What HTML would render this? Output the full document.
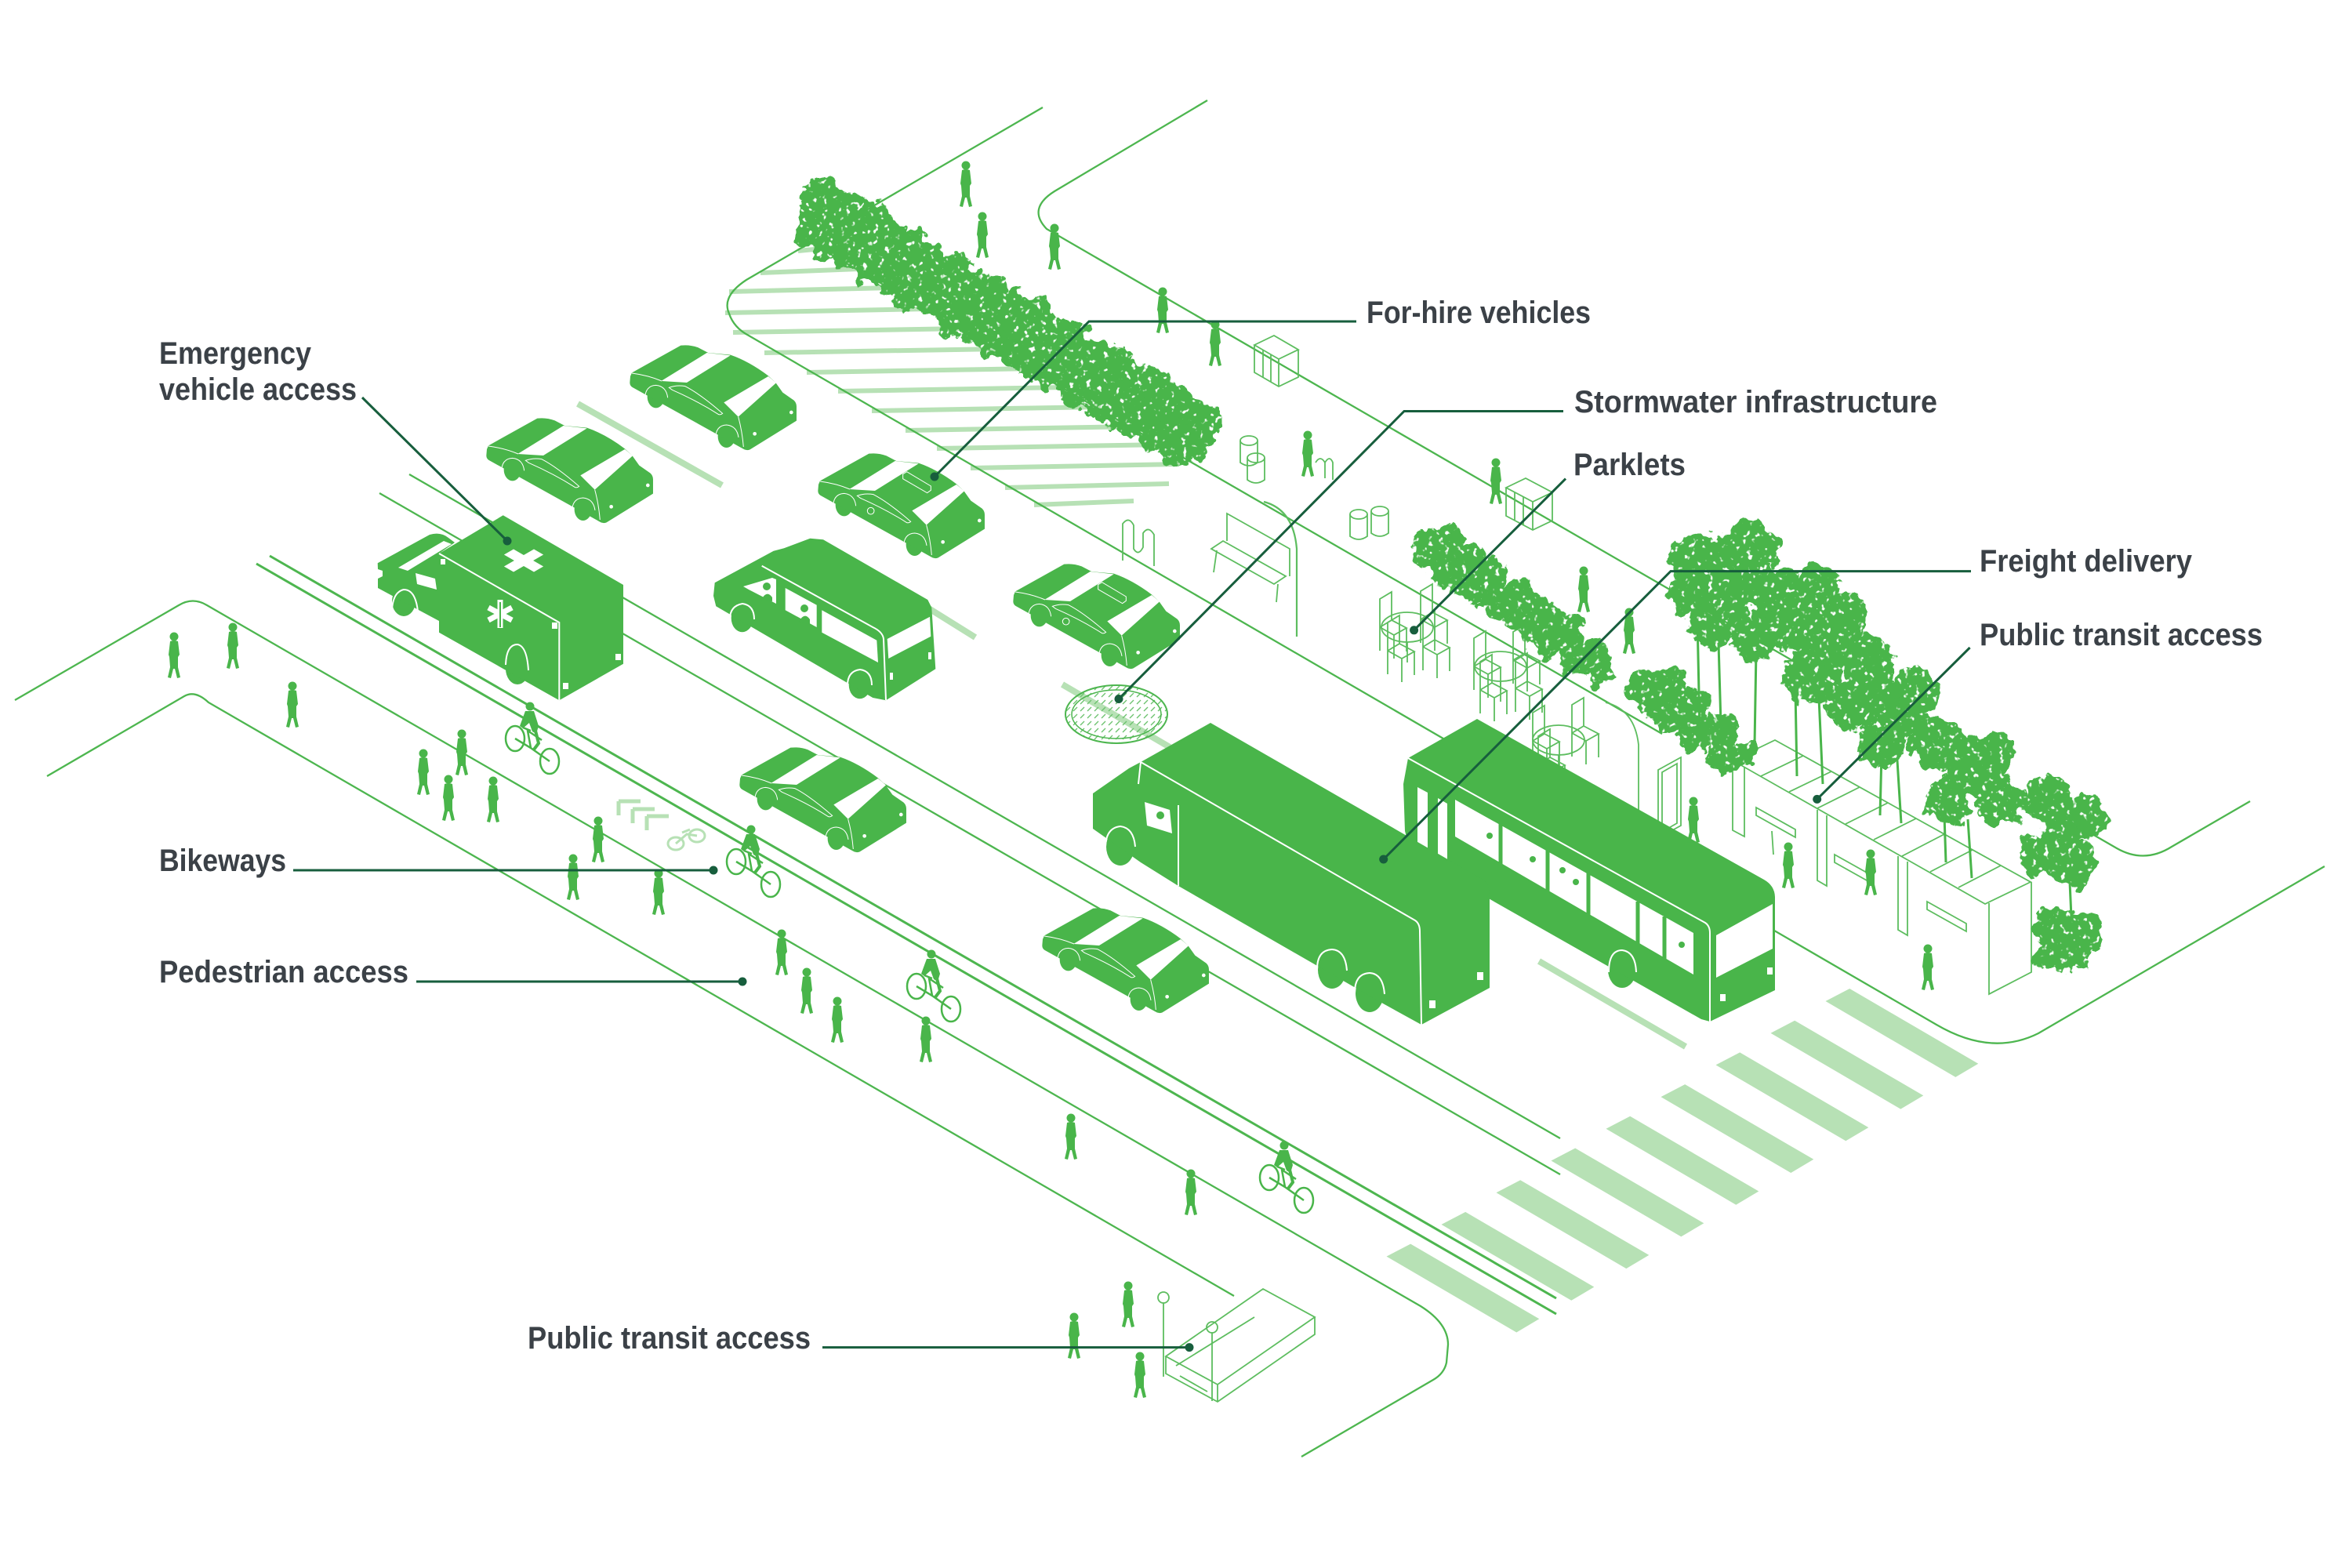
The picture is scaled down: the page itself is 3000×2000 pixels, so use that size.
<!DOCTYPE html>
<html><head><meta charset="utf-8">
<style>
html,body{margin:0;padding:0;background:#fff;overflow:hidden;}
svg{display:block;}
text{font-family:"Liberation Sans",Arial,sans-serif;font-weight:700;fill:#3b4147;font-size:40px;}
</style></head><body>
<svg xmlns="http://www.w3.org/2000/svg" xmlns:xlink="http://www.w3.org/1999/xlink" width="3000" height="2000" viewBox="0 0 3000 2000">
<defs>
<pattern id="mh" width="9" height="9" patternUnits="userSpaceOnUse"><path d="M1,7 L6,2" stroke="#6cc26e" stroke-width="1.3"/></pattern>
<filter id="leafy" x="-15%" y="-15%" width="130%" height="130%" color-interpolation-filters="sRGB">
 <feTurbulence type="fractalNoise" baseFrequency="0.05" numOctaves="3" seed="4" result="n"/>
 <feDisplacementMap in="SourceGraphic" in2="n" scale="30" xChannelSelector="R" yChannelSelector="G" result="d"/>
 <feTurbulence type="fractalNoise" baseFrequency="0.14" numOctaves="2" seed="9" result="n2"/>
 <feColorMatrix in="n2" type="matrix" values="0 0 0 0 0  0 0 0 0 0  0 0 0 0 0  10 0 0 0 -6.4" result="holes"/>
 <feComposite in="d" in2="holes" operator="out"/>
</filter>
<g id="car"><g transform="translate(-75,-178)">
 <ellipse cx="170" cy="268" rx="33" ry="43" fill="#49b54a"/>
 <ellipse cx="440" cy="420" rx="33" ry="43" fill="#49b54a"/>
 <path d="M72,190 L78,176 L265,72 Q300,68 332,80 L370,100 L455,108 Q525,132 600,188 L628,214 L655,252 L698,282 Q708,292 708,305 L708,360 L530,470 Q516,476 503,467 L80,232 Q70,226 70,214 Z" fill="#49b54a"/>
 <path d="M190,208 L365,100 L455,110 L288,214 Z" fill="#fff"/>
 <path d="M430,290 L600,190 L630,215 L485,345 Z" fill="#fff"/>
 <path d="M78,178 Q140,186 192,208 M485,345 Q500,400 505,460" stroke="#fff" stroke-width="3" fill="none"/>
 <path d="M220,233 Q250,222 282,228 Q340,258 425,332 Q418,338 410,336 Q330,285 232,242 Z" stroke="#fff" stroke-width="3" fill="none"/>
 <path d="M128,282 Q126,226 170,224 Q210,228 215,272 M398,434 Q396,378 440,376 Q480,380 486,424" stroke="#fff" stroke-width="3" fill="none"/>
 <circle cx="548" cy="410" r="7" fill="#fff"/><circle cx="688" cy="328" r="7" fill="#fff"/>
</g></g>
<g id="taxi"><use href="#car"/><g transform="translate(-75,-178)">
 <path d="M395,150 L410,141 L502,196 L502,212 L488,222 L395,168 Z" fill="#49b54a" stroke="#fff" stroke-width="3"/>
 <circle cx="272" cy="291" r="13" fill="none" stroke="#fff" stroke-width="3"/>
</g></g>
<g id="p">
 <circle cx="0" cy="-53" r="5.5" fill="#49b54a"/>
 <path d="M-5,-47 Q0,-49 5,-47 L7,-30 L5,-27 L5,-14 L8,-1 L4,0 L1,-12 L-1,-12 L-4,0 L-8,-1 L-5,-14 L-6,-27 L-7,-30 Z" fill="#49b54a"/>
</g>
<g id="cy">
 <ellipse cx="0" cy="0" rx="12" ry="16" fill="none" stroke="#49b54a" stroke-width="2.5"/>
 <ellipse cx="44" cy="29" rx="12" ry="16" fill="none" stroke="#49b54a" stroke-width="2.5"/>
 <path d="M0,0 L20,12 L44,29 M20,12 L16,-10 L34,2 M10,-14 L20,-10" stroke="#49b54a" stroke-width="2.5" fill="none"/>
 <circle cx="19" cy="-41" r="5.5" fill="#49b54a"/>
 <path d="M13,-35 L24,-35 L30,-16 L27,-6 L22,-9 L18,-20 L10,-13 L6,-16 Z" fill="#49b54a"/>
 <path d="M26,-10 L30,6 L24,14" stroke="#49b54a" stroke-width="4" fill="none"/>
</g>
<g id="chair" fill="none" stroke="#5dbd5f" stroke-width="1.8">
 <path d="M0,0 L0,-36 L15,-45 L15,-9 Z M0,0 L18,10 L34,1 L15,-9 M0,0 L0,30 M18,10 L18,40 M34,1 L34,31"/>
</g>
</defs>

<!-- light green markings -->
<g stroke="#b7e1b5" stroke-width="6" fill="none">
 <path d="M1018,320 L1060,316 M970,348 L1096,343 M930,372 L1138,367 M925,399 L1185,394 M935,424 L1229,419 M975,450 L1275,445 M1029,475 L1319,470 M1069,499 L1360,494 M1112,524 L1404,519 M1155,549 L1447,544 M1195,572 L1488,567 M1238,597 L1504,592 M1282,622 L1491,617 M1319,644 L1446,639"/>
</g>
<g stroke="#b7e1b5" stroke-width="8" fill="none" stroke-linecap="butt">
 <path d="M737,515 L921,619 M1167,765 L1244,813 M1355,873 L1492,953 M1963,1226 L2150,1335"/>
 <path d="M789,1022 L817,1022 M789,1022 L789,1040 M807,1032 L835,1032 M807,1032 L807,1050 M825,1041 L853,1041 M825,1041 L825,1059" stroke-width="5"/>
</g>
<g fill="none" stroke="#b7e1b5" stroke-width="3">
 <ellipse cx="862" cy="1076" rx="10" ry="8"/><ellipse cx="889" cy="1066" rx="10" ry="8"/>
 <path d="M862,1076 L876,1064 L889,1066 M870,1062 L880,1058"/>
</g>
<g fill="#b7e1b5">
 <polygon points="1768.5,1602.6 1799.2,1586.6 1963.3,1682.3 1934.3,1699.5"/>
 <polygon points="1838.5,1561.9 1869.2,1545.9 2033.3,1641.6 2004.3,1658.8"/>
 <polygon points="1908.5,1521.2 1939.2,1505.2 2103.3,1600.9 2074.3,1618.1"/>
 <polygon points="1978.5,1480.5 2009.2,1464.5 2173.3,1560.2 2144.3,1577.4"/>
 <polygon points="2048.5,1439.8 2079.2,1423.8 2243.3,1519.5 2214.3,1536.7"/>
 <polygon points="2118.5,1399.1 2149.2,1383.1 2313.3,1478.8 2284.3,1496"/>
 <polygon points="2188.5,1358.4 2219.2,1342.4 2383.3,1438.1 2354.3,1455.3"/>
 <polygon points="2258.5,1317.7 2289.2,1301.7 2453.3,1397.4 2424.3,1414.6"/>
 <polygon points="2328.5,1277 2359.2,1261 2523.3,1356.7 2494.3,1373.9"/>
</g>

<!-- road lines -->
<g fill="none" stroke="#4db64f" stroke-width="2.3">
 <path d="M1330,137 L952,357 Q920,378 930,400 Q936,418 955,428 L2470,1307 Q2540,1348 2600,1318 L2965,1105"/>
 <path d="M1540,128 L1345,244 Q1310,266 1335,292 L2700,1082 Q2735,1102 2770,1080 L2870,1022"/>
 <path d="M1033,309 L2120,936"/>
 <path d="M522,605 L1990,1452"/>
 <path d="M484,629 L1990,1498"/>
 <path d="M344,709 L1985,1656" stroke-width="3"/>
 <path d="M327,719 L1985,1676" stroke-width="3"/>
 <path d="M19,893 L228,772 Q246,761 264,772 L1812,1666 Q1847,1688 1847,1715 L1845,1738 Q1842,1752 1828,1760 L1660,1858"/>
 <path d="M60,990 L235,888 Q249,880 266,896 L1574,1653"/>
</g>

<!-- manhole -->
<ellipse cx="1424" cy="911" rx="65" ry="37" fill="url(#mh)" stroke="#4db64f" stroke-width="2"/>
<ellipse cx="1424" cy="911" rx="57" ry="31" fill="none" stroke="#4db64f" stroke-width="1.5"/>

<!-- street furniture -->
<g fill="none" stroke="#5dbd5f" stroke-width="1.8">
 <path d="M1600,440 L1625,428 L1656,446 L1631,458 Z M1600,440 L1600,475 L1631,493 L1656,481 L1656,446 M1631,458 L1631,493 M1611,446 L1611,481 M1621,452 L1621,487"/>
 <path d="M1921,622 L1946,610 L1980,628 L1955,640 Z M1921,622 L1921,658 L1955,676 L1980,664 L1980,628 M1955,640 L1955,676 M1932,628 L1932,664 M1943,634 L1943,670"/>
 <ellipse cx="1593" cy="562" rx="11" ry="6"/><path d="M1582,562 L1582,590 Q1593,598 1604,590 L1604,562"/>
 <ellipse cx="1602" cy="584" rx="11" ry="6"/><path d="M1591,584 L1591,612 Q1602,620 1613,612 L1613,584"/>
 <ellipse cx="1733" cy="656" rx="11" ry="6"/><path d="M1722,656 L1722,684 Q1733,692 1744,684 L1744,656"/>
 <ellipse cx="1760" cy="652" rx="11" ry="6"/><path d="M1749,652 L1749,680 Q1760,688 1771,680 L1771,652"/>
 <path d="M1678,590 Q1684,580 1690,590 L1690,610 M1690,590 Q1696,580 1700,590 L1700,612"/>
 <path d="M1432,715 L1432,668 Q1440,658 1446,670 L1446,700 Q1452,710 1458,698 L1458,680 Q1465,670 1472,682 L1472,722"/>
 <path d="M1545,700 L1560,690 L1640,735 L1625,745 Z M1565,690 L1565,655 L1645,700 L1645,735 M1552,702 L1548,730 M1630,745 L1628,768"/>
 <path d="M1654,812 L1654,700 Q1650,650 1612,640" stroke-width="2.2"/>
 <ellipse cx="1795" cy="800" rx="33" ry="19"/><path d="M1795,819 L1795,845"/>
 <ellipse cx="1914" cy="850" rx="33" ry="19"/><path d="M1914,869 L1914,895"/>
 <ellipse cx="1988" cy="944" rx="33" ry="19"/><path d="M1988,963 L1988,989"/>
 <path d="M2090,1033 L2090,950 Q2085,905 2048,896"/>
 <path d="M2115,982 L2144,966 L2144,1053 L2115,1069 Z M2120,985 L2139,974 L2139,1050 L2120,1061 Z"/>
 <path d="M2210,970 L2264,944 L2590,1125 L2532,1153 Z"/>
 <path d="M2246,990 L2300,964 M2282,1010 L2336,984 M2318,1031 L2372,1004 M2354,1051 L2408,1024 M2390,1071 L2444,1044 M2426,1092 L2480,1064 M2462,1112 L2516,1084 M2498,1132 L2552,1104"/>
 <path d="M2210,970 L2210,1059 L2225,1067 L2225,978 M2318,1033 L2318,1123 L2330,1130 L2330,1040 M2421,1092 L2421,1186 L2433,1193 L2433,1099 M2537,1152 L2537,1268 L2591,1240 L2591,1125"/>
 <path d="M2240,1030 L2290,1058 L2290,1068 L2240,1040 Z M2260,1060 L2262,1090 M2340,1090 L2390,1118 L2390,1128 L2340,1100 Z M2458,1150 L2508,1178 L2508,1188 L2458,1160 Z"/>
 <path d="M1487,1730 L1611,1644 L1677,1680 L1553,1766 Z M1487,1730 L1487,1752 L1553,1788 L1677,1702 L1677,1680 M1553,1766 L1553,1788 M1500,1742 L1600,1680 M1505,1755 L1540,1775"/>
 <path d="M1484,1756 L1484,1662 M1546,1787 L1546,1700"/>
 <circle cx="1484" cy="1655" r="7"/><circle cx="1546" cy="1693" r="7"/>
</g>
<use href="#chair" transform="translate(1760,800)"/>
<use href="#chair" transform="translate(1812,790)"/>
<use href="#chair" transform="translate(1770,830)"/>
<use href="#chair" transform="translate(1815,825)"/>
<use href="#chair" transform="translate(1880,850)"/>
<use href="#chair" transform="translate(1930,842)"/>
<use href="#chair" transform="translate(1888,880)"/>
<use href="#chair" transform="translate(1933,878)"/>
<use href="#chair" transform="translate(1955,945)"/>
<use href="#chair" transform="translate(2005,935)"/>
<use href="#chair" transform="translate(1962,975)"/>

<!-- hedge -->
<g fill="#49b54a" filter="url(#leafy)">
 <path d="M1045,275 L1525,555" stroke="#49b54a" stroke-width="54" stroke-linecap="round" fill="none"/>
 <circle cx="1040" cy="248" r="18"/><circle cx="1052" cy="268" r="22"/>
 <circle cx="1059" cy="251" r="20"/><circle cx="1085" cy="266" r="17"/><circle cx="1111" cy="281" r="22"/><circle cx="1137" cy="296" r="16"/><circle cx="1163" cy="311" r="21"/><circle cx="1189" cy="327" r="18"/><circle cx="1215" cy="342" r="22"/><circle cx="1240" cy="357" r="16"/><circle cx="1266" cy="372" r="21"/><circle cx="1292" cy="387" r="18"/><circle cx="1318" cy="402" r="22"/><circle cx="1344" cy="417" r="17"/><circle cx="1370" cy="432" r="21"/><circle cx="1396" cy="447" r="18"/><circle cx="1422" cy="463" r="22"/><circle cx="1448" cy="478" r="17"/><circle cx="1474" cy="493" r="21"/><circle cx="1500" cy="508" r="18"/><circle cx="1526" cy="523" r="20"/>
 <circle cx="1031" cy="299" r="17"/><circle cx="1057" cy="314" r="20"/><circle cx="1083" cy="329" r="16"/><circle cx="1109" cy="344" r="20"/><circle cx="1135" cy="360" r="17"/><circle cx="1161" cy="375" r="21"/><circle cx="1187" cy="390" r="16"/><circle cx="1212" cy="405" r="20"/><circle cx="1238" cy="420" r="17"/><circle cx="1264" cy="435" r="21"/><circle cx="1290" cy="450" r="16"/><circle cx="1316" cy="465" r="20"/><circle cx="1342" cy="480" r="17"/><circle cx="1368" cy="496" r="21"/><circle cx="1394" cy="511" r="16"/><circle cx="1420" cy="526" r="20"/><circle cx="1446" cy="541" r="17"/><circle cx="1472" cy="556" r="20"/><circle cx="1498" cy="571" r="18"/>
 <circle cx="1530" cy="555" r="22"/><circle cx="1540" cy="538" r="18"/>
</g>

<!-- right-side trees -->
<g fill="#49b54a" filter="url(#leafy)">
 <circle cx="1825" cy="700" r="24"/><circle cx="1850" cy="690" r="20"/><circle cx="1845" cy="725" r="26"/><circle cx="1875" cy="715" r="22"/><circle cx="1880" cy="745" r="24"/><circle cx="1905" cy="735" r="20"/><circle cx="1910" cy="768" r="25"/><circle cx="1940" cy="760" r="22"/><circle cx="1945" cy="790" r="24"/><circle cx="1970" cy="785" r="20"/><circle cx="1975" cy="815" r="24"/><circle cx="2000" cy="810" r="22"/><circle cx="2010" cy="840" r="22"/><circle cx="2035" cy="835" r="20"/><circle cx="2040" cy="860" r="18"/>
 <circle cx="2100" cy="880" r="25"/><circle cx="2130" cy="870" r="22"/><circle cx="2125" cy="905" r="26"/><circle cx="2160" cy="900" r="24"/><circle cx="2165" cy="935" r="25"/><circle cx="2195" cy="930" r="22"/><circle cx="2200" cy="965" r="22"/><circle cx="2225" cy="960" r="18"/>
 <circle cx="2170" cy="720" r="40"/><circle cx="2230" cy="700" r="36"/><circle cx="2262" cy="760" r="38"/><circle cx="2190" cy="790" r="36"/><circle cx="2240" cy="815" r="28"/><circle cx="2150" cy="760" r="24"/><circle cx="2215" cy="745" r="30"/>
 <circle cx="2292" cy="795" r="36"/><circle cx="2350" cy="785" r="32"/><circle cx="2382" cy="842" r="36"/><circle cx="2312" cy="862" r="36"/><circle cx="2362" cy="902" r="30"/><circle cx="2320" cy="745" r="26"/><circle cx="2335" cy="830" r="28"/>
 <circle cx="2385" cy="885" r="32"/><circle cx="2442" cy="885" r="32"/><circle cx="2462" cy="942" r="30"/><circle cx="2400" cy="948" r="30"/><circle cx="2420" cy="915" r="26"/>
 <circle cx="2482" cy="955" r="34"/><circle cx="2540" cy="962" r="32"/><circle cx="2552" cy="1022" r="30"/><circle cx="2485" cy="1022" r="30"/><circle cx="2515" cy="990" r="26"/>
 <circle cx="2612" cy="1022" r="32"/><circle cx="2660" cy="1042" r="28"/><circle cx="2642" cy="1100" r="32"/><circle cx="2602" cy="1090" r="26"/><circle cx="2630" cy="1060" r="24"/>
 <circle cx="2620" cy="1182" r="26"/><circle cx="2660" cy="1192" r="24"/><circle cx="2642" cy="1215" r="24"/><circle cx="2610" cy="1215" r="18"/>
</g>
<g stroke="#49b54a" stroke-width="3" fill="none">
 <path d="M2192,820 L2196,960 M2240,830 L2238,950 M2165,790 L2168,930 M2320,890 L2325,1000 M2290,880 L2292,990 M2420,970 L2425,1050 M2400,960 L2398,1040 M2510,1045 L2515,1120 M2480,1040 L2482,1100 M2640,1125 L2642,1170"/>
</g>

<!-- vehicles -->
<use href="#car" transform="translate(805,476) scale(0.3333)"/>
<use href="#car" transform="translate(622,569) scale(0.3333)"/>
<use href="#taxi" transform="translate(1045,614) scale(0.3333)"/>

<!-- ambulance -->
<g>
 <ellipse cx="515" cy="767" rx="15" ry="19" fill="#49b54a"/>
 <path d="M481.7,718.3 L548,682 Q562,678 572,686 L580,692 L560,706 L560,792 L532,777 L482,750 L482,738 L488,735 L488,728 L482,726 Z" fill="#49b54a"/>
 <path d="M508,724 L566,690 L576,694 L520,728 Z" fill="#fff"/>
 <path d="M530,731 L555,738 L557,752 L532,745 Z" fill="#fff"/>
 <ellipse cx="660" cy="853" rx="15" ry="20" fill="#49b54a"/>
 <path d="M560,706 L641.7,657.3 L795,746 L795,846.7 L713.3,893.3 L560,806.7 Z" fill="#49b54a"/>
 <path d="M560,706 L713.3,794 L713.3,893.3" stroke="#fff" stroke-width="2" fill="none"/>
 <path d="M500,790 Q498,756 515,752 Q530,752 533,780 M645,848 Q646,822 660,822 Q672,824 674,855" stroke="#fff" stroke-width="2" fill="none"/>
 <path transform="matrix(0.866,0.5,0.866,-0.5,668,715)" d="M-22,-7 L-7,-7 L-7,-22 L7,-22 L7,-7 L22,-7 L22,7 L7,7 L7,22 L-7,22 L-7,7 L-22,7 Z" fill="#fff"/>
 <g stroke="#fff" stroke-width="7" stroke-linecap="butt"><path d="M638,765 L638,801 M623,775 L653,791 M653,775 L623,791"/></g>
 <path d="M638,768 L638,800" stroke="#49b54a" stroke-width="2"/>
 <g fill="#fff"><rect x="562" y="713" width="6" height="7"/><rect x="704" y="794" width="7" height="8"/><rect x="785" y="834" width="7" height="8"/><rect x="718" y="871" width="7" height="8"/></g>
</g>

<!-- van -->
<g>
 <ellipse cx="946.7" cy="788.3" rx="14" ry="18" fill="#49b54a"/>
 <ellipse cx="1096.7" cy="873.3" rx="14" ry="18" fill="#49b54a"/>
 <path d="M911.7,743.3 L986.7,702.7 L1000,699.3 L1033.3,686.7 L1050,688.3 L1183.3,765 L1188.3,775 L1193.3,853.3 L1130,893.3 L1113.3,890 L913.3,773.3 L910,760 Z" fill="#49b54a"/>
 <path d="M971.7,721.7 L1113.3,800 Q1126,806 1127,815 L1130,893" stroke="#fff" stroke-width="2" fill="none"/>
 <path d="M1131.7,815 L1186,786.7 L1187.3,811.7 L1133.3,840 Z" fill="#fff"/>
 <path d="M948,748 L985,737 L990,739 L990,770 L955,752 Z" fill="#fff"/>
 <path d="M1001.7,750 L1041.7,771.7 L1041.7,800 L1001.7,778.3 Z" fill="#fff"/>
 <path d="M1048.3,778.3 L1118.3,816.7 L1120,845 L1048.3,806.7 Z" fill="#fff"/>
 <circle cx="978" cy="748" r="5" fill="#49b54a"/><path d="M971,765 Q978,752 985,762 L985,767 Z" fill="#49b54a"/>
 <circle cx="1026" cy="776" r="5" fill="#49b54a"/><path d="M1019,793 Q1026,780 1033,790 L1033,796 Z" fill="#49b54a"/>
 <path d="M931,792 Q930,773 947,770 Q962,772 962,790 M1081,877 Q1080,856 1097,854 Q1112,856 1112,874" stroke="#fff" stroke-width="2" fill="none"/>
 <rect x="1184" y="832" width="4" height="9" fill="#fff"/><rect x="1135" y="858" width="4" height="9" fill="#fff"/>
</g>

<use href="#taxi" transform="translate(1294,755) scale(0.3333)"/>
<use href="#car" transform="translate(945,989) scale(0.3333)"/>

<!-- bus -->
<g>
 <ellipse cx="2069" cy="1237" rx="18" ry="23" fill="#49b54a"/>
 <path d="M1796,967 L1884,917 L2250,1122 Q2264,1130 2264,1145 L2264,1263 L2181,1303 L2170,1300 L1800,1090 L1792,1060 L1790,1000 Z" fill="#49b54a"/>
 <path d="M1856,1020 L2160,1190 L2160,1243 L1856,1067 Z" fill="#fff"/>
 <g stroke="#49b54a" stroke-width="5"><path d="M1914,1050 L1914,1102 M1974,1084 L1974,1137 M2026,1113 L2026,1167 M2089,1150 L2089,1204 M2123,1169 L2123,1223"/></g>
 <g fill="#49b54a"><circle cx="1900" cy="1066" r="4"/><circle cx="1955" cy="1096" r="4"/><circle cx="1993" cy="1110" r="4"/><circle cx="2010" cy="1125" r="4"/><circle cx="2145" cy="1205" r="4"/></g>
 <path d="M1808,1004 L1821,1011 L1821,1090 L1808,1083 Z M1834,1018 L1846,1025 L1846,1098 L1834,1091 Z" fill="#fff"/>
 <path d="M2189,1193 L2261,1153 L2261,1210 L2189,1247 Z" fill="#fff"/>
 <path d="M1796,967 L2175,1177 Q2181,1181 2181,1190 L2181,1303" stroke="#fff" stroke-width="2" fill="none"/>
 <path d="M2052,1240 Q2052,1212 2069,1212 Q2086,1214 2087,1240" stroke="#fff" stroke-width="2" fill="none"/>
 <rect x="2254" y="1234" width="7" height="9" fill="#fff"/><rect x="2194" y="1268" width="7" height="9" fill="#fff"/>
</g>

<!-- truck -->
<g>
 <ellipse cx="1429" cy="1080" rx="18" ry="24" fill="#49b54a"/>
 <ellipse cx="1699" cy="1237" rx="18" ry="24" fill="#49b54a"/>
 <ellipse cx="1747" cy="1267" rx="18" ry="24" fill="#49b54a"/>
 <path d="M1394,1012 L1440,980 L1455,972 L1544,922 L1890,1121 Q1900,1127 1900,1140 L1900,1260 L1813,1307 L1755,1275 L1503,1130 L1455,1100 L1394,1057 Z" fill="#49b54a"/>
 <path d="M1455,972 L1805,1174 Q1811,1178 1811,1188 L1813,1307 M1503,1027 L1503,1130 M1455,972 L1452,1000" stroke="#fff" stroke-width="2" fill="none"/>
 <path d="M1460,1023 L1492,1033 L1495,1063 L1463,1053 Z" fill="#fff"/>
 <circle cx="1480" cy="1040" r="5" fill="#49b54a"/>
 <path d="M1410,1082 Q1410,1056 1429,1054 Q1446,1056 1448,1080 M1680,1236 Q1680,1212 1699,1211 Q1716,1212 1718,1238 M1728,1266 Q1728,1242 1747,1241 Q1764,1242 1766,1268" stroke="#fff" stroke-width="2" fill="none"/>
 <rect x="1884" y="1240" width="8" height="10" fill="#fff"/><rect x="1823" y="1276" width="8" height="10" fill="#fff"/>
</g>

<use href="#car" transform="translate(1331,1194) scale(0.3333)"/>

<!-- people -->
<g>
 <use href="#p" transform="translate(1232,264)"/>
 <use href="#p" transform="translate(1253,329)"/>
 <use href="#p" transform="translate(1345,344)"/>
 <use href="#p" transform="translate(1483,425)"/>
 <use href="#p" transform="translate(1550,467)"/>
 <use href="#p" transform="translate(1668,608)"/>
 <use href="#p" transform="translate(1908,643)"/>
 <use href="#p" transform="translate(2020,781)"/>
 <use href="#p" transform="translate(2078,834)"/>
 <use href="#p" transform="translate(2160,1075)"/>
 <use href="#p" transform="translate(2281,1133)"/>
 <use href="#p" transform="translate(2386,1142)"/>
 <use href="#p" transform="translate(2459,1263)"/>
 <use href="#p" transform="translate(222,865)"/>
 <use href="#p" transform="translate(297,853)"/>
 <use href="#p" transform="translate(373,928)"/>
 <use href="#p" transform="translate(540,1014)"/>
 <use href="#p" transform="translate(589,989)"/>
 <use href="#p" transform="translate(572,1047)"/>
 <use href="#p" transform="translate(629,1049)"/>
 <use href="#p" transform="translate(731,1148)"/>
 <use href="#p" transform="translate(763,1100)"/>
 <use href="#p" transform="translate(840,1167)"/>
 <use href="#p" transform="translate(997,1244)"/>
 <use href="#p" transform="translate(1029,1293)"/>
 <use href="#p" transform="translate(1068,1330)"/>
 <use href="#p" transform="translate(1181,1355)"/>
 <use href="#p" transform="translate(1366,1479)"/>
 <use href="#p" transform="translate(1519,1550)"/>
 <use href="#p" transform="translate(1370,1733)"/>
 <use href="#p" transform="translate(1439,1693)"/>
 <use href="#p" transform="translate(1454,1783)"/>
 <use href="#cy" transform="translate(657,942)"/>
 <use href="#cy" transform="translate(939,1099)"/>
 <use href="#cy" transform="translate(1169,1258)"/>
 <use href="#cy" transform="translate(1619,1502)"/>
</g>

<!-- leader lines -->
<g stroke="#175e3d" stroke-width="3" fill="none">
 <path d="M462,507 L647,690"/>
 <path d="M1730,410 L1389,410 L1192,608"/>
 <path d="M1994,524.5 L1791,524.5 L1427,891.5"/>
 <path d="M1997,610.6 L1803.6,803.8"/>
 <path d="M2514,728.6 L2131,728.6 L1764.7,1096"/>
 <path d="M2512.6,826 L2317.7,1019.4"/>
 <path d="M374,1110 L910,1110"/>
 <path d="M531,1252 L947,1252"/>
 <path d="M1049,1718.6 L1517,1718.6"/>
</g>
<g fill="#175e3d">
 <circle cx="647" cy="690" r="5.5"/><circle cx="1192" cy="608" r="5.5"/><circle cx="1427" cy="891.5" r="5.5"/><circle cx="1803.6" cy="803.8" r="5.5"/><circle cx="1764.7" cy="1096" r="5.5"/><circle cx="2317.7" cy="1019.4" r="5.5"/><circle cx="910" cy="1110" r="5.5"/><circle cx="947" cy="1252" r="5.5"/><circle cx="1517" cy="1718.6" r="5.5"/>
</g>

<!-- labels -->
<text x="203" y="464" textLength="194" lengthAdjust="spacingAndGlyphs">Emergency</text>
<text x="203" y="510" textLength="252" lengthAdjust="spacingAndGlyphs">vehicle access</text>
<text x="1743" y="412" textLength="286" lengthAdjust="spacingAndGlyphs">For-hire vehicles</text>
<text x="2008" y="526" textLength="463" lengthAdjust="spacingAndGlyphs">Stormwater infrastructure</text>
<text x="2007" y="606" textLength="143" lengthAdjust="spacingAndGlyphs">Parklets</text>
<text x="2525" y="729" textLength="271" lengthAdjust="spacingAndGlyphs">Freight delivery</text>
<text x="2525" y="823" textLength="361" lengthAdjust="spacingAndGlyphs">Public transit access</text>
<text x="203" y="1111" textLength="162" lengthAdjust="spacingAndGlyphs">Bikeways</text>
<text x="203" y="1253" textLength="318" lengthAdjust="spacingAndGlyphs">Pedestrian access</text>
<text x="673" y="1720" textLength="361" lengthAdjust="spacingAndGlyphs">Public transit access</text>
</svg>
</body></html>
